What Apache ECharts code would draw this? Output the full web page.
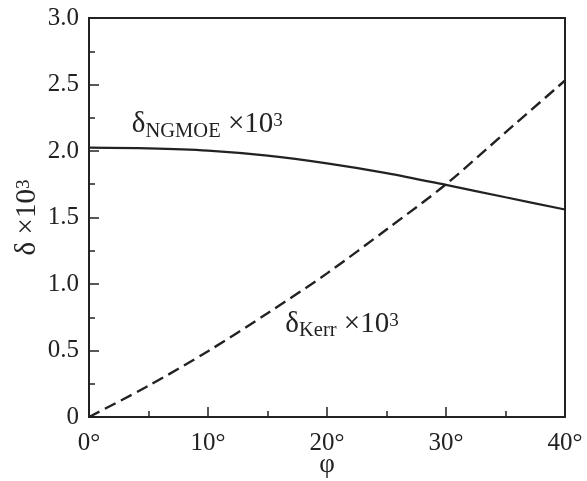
<!DOCTYPE html>
<html>
<head>
<meta charset="utf-8">
<script src="https://cdn.jsdelivr.net/npm/echarts@6/dist/echarts.min.js"></script>
<style>
  html, body { margin: 0; padding: 0; background: #fff; }
  #chart { width: 587px; height: 481px; }
</style>
</head>
<body>
<div id="chart"></div>
<script>
const phiValues = [0, 5, 10, 15, 20, 25, 30, 35, 40];
const ngmoeValues = [2.025, 2.02, 2.003, 1.965, 1.907, 1.834, 1.745, 1.652, 1.56];
const kerrValues = [0, 0.235, 0.495, 0.78, 1.08, 1.41, 1.75, 2.14, 2.53];

// where the curve labels sit, in data units [phi, delta]
const ngmoeLabelAt = [3.6, 2.2];
const kerrLabelAt = [16.5, 0.7];

const ink = "#222";
const serif = "Liberation Serif";

const richText = {
  d: { fontFamily: serif, fontSize: 29, color: ink, lineHeight: 36 },
  s: { fontFamily: serif, fontSize: 20.5, color: ink, lineHeight: 22, padding: [14, 0, 0, 0] },
  m: { fontFamily: serif, fontSize: 29, color: ink, lineHeight: 36 },
  p: { fontFamily: serif, fontSize: 19, color: ink, lineHeight: 22, padding: [0, 0, 6, 0] },
};

function curveLabel(coord, sub) {
  return {
    symbol: "circle",
    symbolSize: 0,
    data: [
      {
        coord: coord,
        label: {
          show: true,
          position: "right",
          distance: 0,
          formatter: `{d|δ}{s|${sub}}{m| ×10}{p|3}`,
          rich: richText,
        },
      },
    ],
  };
}

const chart = echarts.init(document.getElementById("chart"));

chart.setOption({
  animation: false,
  backgroundColor: "#fff",
  grid: {
    left: 89,
    right: 22,
    top: 18,
    bottom: 64,
    outerBoundsMode: "none",
    containLabel: false,
    show: true,
    borderColor: ink,
    borderWidth: 2,
  },
  xAxis: {
    type: "value",
    min: 0,
    max: 40,
    interval: 10,
    name: "φ",
    nameLocation: "middle",
    nameGap: 34,
    nameMoveOverlap: false,
    nameTextStyle: { fontFamily: serif, fontSize: 27, color: ink },
    axisLine: { lineStyle: { color: ink, width: 2 } },
    axisTick: { inside: true, length: 10, lineStyle: { color: ink, width: 1.5 } },
    minorTick: { show: true, splitNumber: 2, length: 6, lineStyle: { color: ink, width: 1.5 } },
    splitLine: { show: false },
    axisLabel: {
      margin: 14,
      fontFamily: serif,
      fontSize: 25,
      color: ink,
      formatter: (v) => `${v}°`,
    },
  },
  yAxis: {
    type: "value",
    min: 0,
    max: 3,
    interval: 0.5,
    name: "{d|δ}{m| ×10}{p|3}",
    nameLocation: "middle",
    nameGap: 44,
    nameMoveOverlap: false,
    nameTextStyle: { rich: richText },
    axisLine: { lineStyle: { color: ink, width: 2 } },
    axisTick: { inside: true, length: 10, lineStyle: { color: ink, width: 1.5 } },
    minorTick: { show: true, splitNumber: 2, length: 6, lineStyle: { color: ink, width: 1.5 } },
    splitLine: { show: false },
    axisLabel: {
      margin: 10,
      fontFamily: serif,
      fontSize: 25,
      color: ink,
      formatter: (v) => (v === 0 ? "0" : v.toFixed(1)),
    },
  },
  series: [
    {
      name: "NGMOE",
      type: "line",
      smooth: 0.3,
      symbol: "none",
      lineStyle: { color: ink, width: 2.2 },
      data: phiValues.map((p, i) => [p, ngmoeValues[i]]),
      markPoint: curveLabel(ngmoeLabelAt, "NGMOE"),
    },
    {
      name: "Kerr",
      type: "line",
      smooth: 0.3,
      symbol: "none",
      lineStyle: { color: ink, width: 2.4, type: [12, 6] },
      data: phiValues.map((p, i) => [p, kerrValues[i]]),
      markPoint: curveLabel(kerrLabelAt, "Kerr"),
    },
  ],
});
</script>
</body>
</html>
